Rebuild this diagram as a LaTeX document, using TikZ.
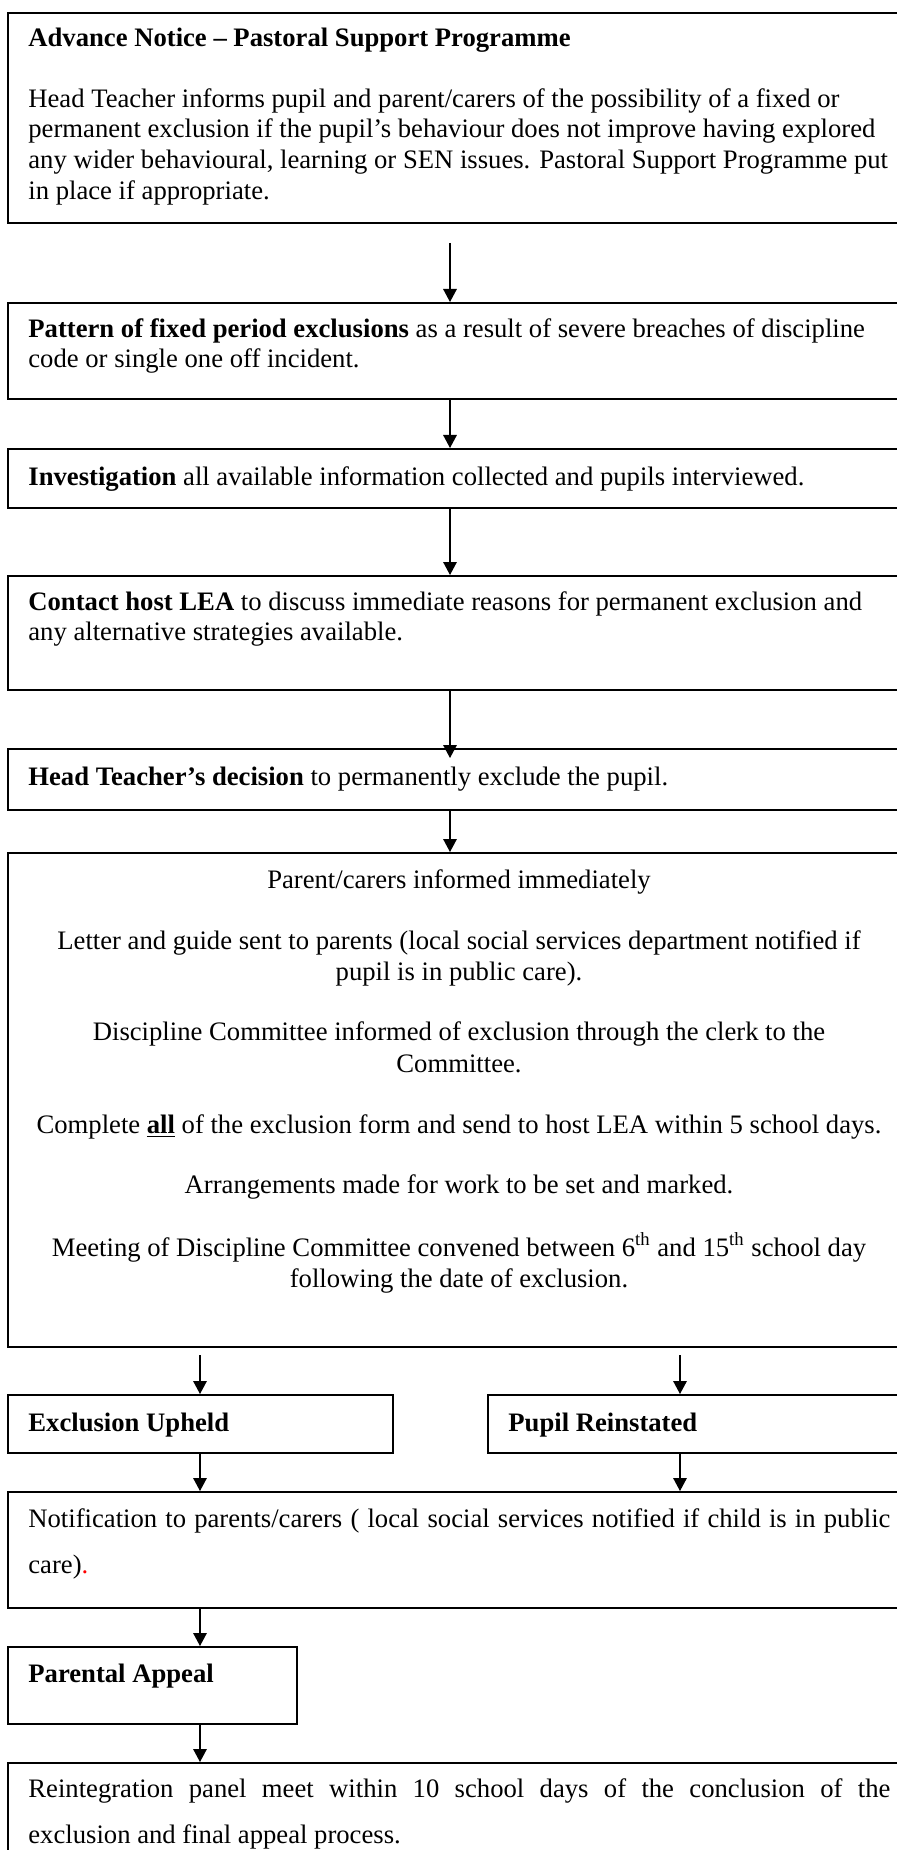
\documentclass[tikz,border=0pt]{standalone}
\usepackage{fontspec}
\setmainfont{Liberation Serif}
\usetikzlibrary{arrows.meta}
\begin{document}
\begin{tikzpicture}[x=0.5pt,y=-0.5pt,
  box/.style={draw, line width=1pt, inner sep=0pt, anchor=north west},
  tfont/.style={font=\fontsize{13.33}{16}\selectfont},
  txt/.style={tfont, anchor=base west, inner sep=0pt},
  ctxt/.style={tfont, anchor=base, inner sep=0pt},
  arr/.style={line width=0.6pt, -{Triangle[length=6.5pt,width=6.8pt]}}]
\useasboundingbox (0,0) rectangle (897,1850);
\clip (0,0) rectangle (897,1850);
\fill[white] (0,0) rectangle (897,1850);
% boxes
\node[box, minimum width=452.5pt, minimum height=105pt] (b1) at (7,12) {};
\node[box, minimum width=452.5pt, minimum height=48pt] (b2) at (7,302) {};
\node[box, minimum width=452.5pt, minimum height=29.5pt] (b3) at (7,448) {};
\node[box, minimum width=452.5pt, minimum height=57pt] (b4) at (7,575) {};
\node[box, minimum width=452.5pt, minimum height=30.5pt] (b5) at (7,748) {};
\node[box, minimum width=452.5pt, minimum height=247pt] (b6) at (7,852) {};
\node[box, minimum width=192.5pt, minimum height=29pt] (b7) at (7,1394) {};
\node[box, minimum width=212.5pt, minimum height=29pt] (b8) at (487,1394) {};
\node[box, minimum width=452.5pt, minimum height=58pt] (b9) at (7,1491) {};
\node[box, minimum width=144.5pt, minimum height=38.5pt] (b10) at (7,1646) {};
\node[box, minimum width=452.5pt, minimum height=55pt] (b11) at (7,1762) {};
% texts
\node[txt] (t1a) at (28,47) {\textbf{Advance Notice – Pastoral Support Programme}};
\node[txt] (t1b) at (28,108) {Head Teacher informs pupil and parent/carers of the possibility of a fixed or};
\node[txt] (t1c) at (28,138) {permanent exclusion if the pupil’s behaviour does not improve having explored};
\node[txt] (t1d) at (28,169) {any wider behavioural, learning or SEN issues. Pastoral Support Programme put};
\node[txt] (t1e) at (28,200) {in place if appropriate.};
\node[txt] (t2a) at (28,338) {\textbf{Pattern of fixed period exclusions} as a result of severe breaches of discipline};
\node[txt] (t2b) at (28,368) {code or single one off incident.};
\node[txt] (t3a) at (28,485) {\textbf{Investigation} all available information collected and pupils interviewed.};
\node[txt] (t4a) at (28,610) {\textbf{Contact host LEA} to discuss immediate reasons for permanent exclusion and};
\node[txt] (t4b) at (28,640) {any alternative strategies available.};
\node[txt] (t5a) at (28,785) {\textbf{Head Teacher’s decision} to permanently exclude the pupil.};
\node[ctxt] (t6a) at (459,888) {Parent/carers informed immediately};
\node[ctxt] (t6b) at (459,949) {Letter and guide sent to parents (local social services department notified if};
\node[ctxt] (t6c) at (459,980) {pupil is in public care).};
\node[ctxt] (t6d) at (459,1040) {Discipline Committee informed of exclusion through the clerk to the};
\node[ctxt] (t6e) at (459,1072) {Committee.};
\node[ctxt] (t6f) at (459,1133) {Complete \underline{\textbf{all}} of the exclusion form and send to host LEA within 5 school days.};
\node[ctxt] (t6g) at (459,1193) {Arrangements made for work to be set and marked.};
\node[ctxt] (t6h) at (459,1256) {Meeting of Discipline Committee convened between 6\textsuperscript{th} and 15\textsuperscript{th} school day};
\node[ctxt] (t6i) at (459,1287) {following the date of exclusion.};
\node[txt] (t7) at (28,1431) {\textbf{Exclusion Upheld}};
\node[txt] (t8) at (508,1431) {\textbf{Pupil Reinstated}};
\node[txt] (t9a) at (28,1527) {\makebox[431pt][s]{Notification to parents/carers ( local social services notified if child is in public}};
\node[txt] (t9b) at (28,1573) {care)\textcolor{red}{.}};
\node[txt] (t10) at (28,1682) {\textbf{Parental Appeal}};
\node[txt] (t11a) at (28,1797) {\makebox[431pt][s]{Reintegration panel meet within 10 school days of the conclusion of the}};
\node[txt] (t11b) at (28,1843) {exclusion and final appeal process.};
% connectors
\coordinate (c1) at (450,243);
\coordinate (cl) at (200,1355);
\coordinate (cr) at (680,1355);
\draw[arr] (c1) -- (c1 |- b2.north);
\draw[arr] (b2.south -| c1) -- (b3.north -| c1);
\draw[arr] (b3.south -| c1) -- (b4.north -| c1);
\draw[arr] (b4.south -| c1) -- ([yshift=-5pt]b5.north -| c1);
\draw[arr] (b5.south -| c1) -- (b6.north -| c1);
\draw[arr] (cl) -- (cl |- b7.north);
\draw[arr] (cr) -- (cr |- b8.north);
\draw[arr] (b7.south -| cl) -- (b9.north -| cl);
\draw[arr] (b8.south -| cr) -- (b9.north -| cr);
\draw[arr] (b9.south -| cl) -- (b10.north -| cl);
\draw[arr] (b10.south -| cl) -- (b11.north -| cl);
\end{tikzpicture}
\end{document}
